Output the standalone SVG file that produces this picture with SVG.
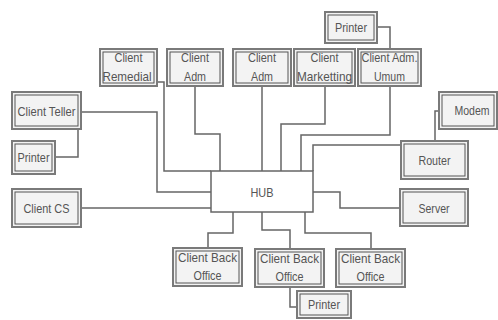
<svg xmlns="http://www.w3.org/2000/svg" width="498" height="320" viewBox="0 0 498 320">
<style>
.o{fill:#f3f3f3;stroke:#7a7a7a;stroke-width:2}
.i{fill:none;stroke:#555;stroke-width:1}
.t{font-family:"Liberation Sans",Arial,sans-serif;font-size:13px;fill:#555;text-anchor:middle}
.c{fill:none;stroke:#666;stroke-width:1.5}
</style>
<rect width="498" height="320" fill="#fff"/>
<g id="connectors">
<path class="c" d="M377,27 H390 V49"/>
<path class="c" d="M81,112 H157 V192 H211"/>
<path class="c" d="M78,129 V157 H55"/>
<path class="c" d="M81,208 H211"/>
<path class="c" d="M157,82 H164 V171 H211"/>
<path class="c" d="M195,86 V134 H220 V171"/>
<path class="c" d="M262,86 V171"/>
<path class="c" d="M325,86 V124 H281 V171"/>
<path class="c" d="M390,86 V135 H301 V171"/>
<path class="c" d="M401,145 H313 V171"/>
<path class="c" d="M439,111 H435 V141"/>
<path class="c" d="M313,192 H340 V208 H400"/>
<path class="c" d="M233,212 V233 H208 V248"/>
<path class="c" d="M262,212 V230 H290 V249"/>
<path class="c" d="M305,212 V233 H371 V249"/>
<path class="c" d="M290,287 V307 H297"/>
</g>
<g id="printer-top"><rect class="o" x="325" y="12" width="52" height="31"/><rect class="i" x="328" y="15" width="46" height="25"/><text class="t" x="351" y="32" textLength="32" lengthAdjust="spacingAndGlyphs">Printer</text></g>
<g id="client-remedial"><rect class="o" x="100" y="49" width="57" height="37"/><rect class="i" x="103" y="52" width="51" height="31"/><text class="t" x="128.5" y="62" textLength="28" lengthAdjust="spacingAndGlyphs">Client</text><text class="t" x="127" y="81" textLength="49" lengthAdjust="spacingAndGlyphs">Remedial</text></g>
<g id="client-adm-1"><rect class="o" x="167" y="49" width="56" height="37"/><rect class="i" x="170" y="52" width="50" height="31"/><text class="t" x="195" y="62" textLength="28" lengthAdjust="spacingAndGlyphs">Client</text><text class="t" x="195" y="81" textLength="22" lengthAdjust="spacingAndGlyphs">Adm</text></g>
<g id="client-adm-2"><rect class="o" x="233" y="49" width="58" height="37"/><rect class="i" x="236" y="52" width="52" height="31"/><text class="t" x="262" y="62" textLength="28" lengthAdjust="spacingAndGlyphs">Client</text><text class="t" x="262" y="81" textLength="22" lengthAdjust="spacingAndGlyphs">Adm</text></g>
<g id="client-marketting"><rect class="o" x="294" y="49" width="61" height="37"/><rect class="i" x="297" y="52" width="55" height="31"/><text class="t" x="324.5" y="62" textLength="28" lengthAdjust="spacingAndGlyphs">Client</text><text class="t" x="324.5" y="81" textLength="55" lengthAdjust="spacingAndGlyphs">Marketting</text></g>
<g id="client-adm-umum"><rect class="o" x="358" y="49" width="63" height="37"/><rect class="i" x="361" y="52" width="57" height="31"/><text class="t" x="389.5" y="62" textLength="56" lengthAdjust="spacingAndGlyphs">Client Adm.</text><text class="t" x="389.5" y="81" textLength="31" lengthAdjust="spacingAndGlyphs">Umum</text></g>
<g id="client-teller"><rect class="o" x="12" y="92" width="69" height="37"/><rect class="i" x="15" y="95" width="63" height="31"/><text class="t" x="46.5" y="116" textLength="58" lengthAdjust="spacingAndGlyphs">Client Teller</text></g>
<g id="printer-left"><rect class="o" x="12" y="141" width="43" height="33"/><rect class="i" x="15" y="144" width="37" height="27"/><text class="t" x="33.5" y="162" textLength="32" lengthAdjust="spacingAndGlyphs">Printer</text></g>
<g id="client-cs"><rect class="o" x="12" y="189" width="69" height="38"/><rect class="i" x="15" y="192" width="63" height="32"/><text class="t" x="46.5" y="213" textLength="46" lengthAdjust="spacingAndGlyphs">Client CS</text></g>
<g id="hub"><rect x="211" y="171" width="102" height="41" fill="#fff" stroke="#666" stroke-width="1.5"/><text class="t" x="262" y="197" textLength="23" lengthAdjust="spacingAndGlyphs">HUB</text></g>
<g id="modem"><rect class="o" x="439" y="92" width="58" height="37"/><rect class="i" x="442" y="95" width="52" height="31"/><text class="t" x="472" y="115" textLength="35" lengthAdjust="spacingAndGlyphs">Modem</text></g>
<g id="router"><rect class="o" x="401" y="141" width="67" height="38"/><rect class="i" x="404" y="144" width="61" height="32"/><text class="t" x="434.5" y="165" textLength="32" lengthAdjust="spacingAndGlyphs">Router</text></g>
<g id="server"><rect class="o" x="400" y="189" width="68" height="37"/><rect class="i" x="403" y="192" width="62" height="31"/><text class="t" x="434" y="213" textLength="31" lengthAdjust="spacingAndGlyphs">Server</text></g>
<g id="back-office-1"><rect class="o" x="173" y="248" width="69" height="38"/><rect class="i" x="176" y="251" width="63" height="32"/><text class="t" x="207.5" y="262" textLength="59" lengthAdjust="spacingAndGlyphs">Client Back</text><text class="t" x="207.5" y="280" textLength="28" lengthAdjust="spacingAndGlyphs">Office</text></g>
<g id="back-office-2"><rect class="o" x="255" y="249" width="69" height="38"/><rect class="i" x="258" y="252" width="63" height="32"/><text class="t" x="289.5" y="263" textLength="59" lengthAdjust="spacingAndGlyphs">Client Back</text><text class="t" x="289.5" y="281" textLength="28" lengthAdjust="spacingAndGlyphs">Office</text></g>
<g id="back-office-3"><rect class="o" x="336" y="249" width="69" height="38"/><rect class="i" x="339" y="252" width="63" height="32"/><text class="t" x="370.5" y="263" textLength="59" lengthAdjust="spacingAndGlyphs">Client Back</text><text class="t" x="370.5" y="281" textLength="28" lengthAdjust="spacingAndGlyphs">Office</text></g>
<g id="printer-bottom"><rect class="o" x="297" y="291" width="54" height="27"/><rect class="i" x="300" y="294" width="48" height="21"/><text class="t" x="324" y="309" textLength="32" lengthAdjust="spacingAndGlyphs">Printer</text></g>
</svg>
